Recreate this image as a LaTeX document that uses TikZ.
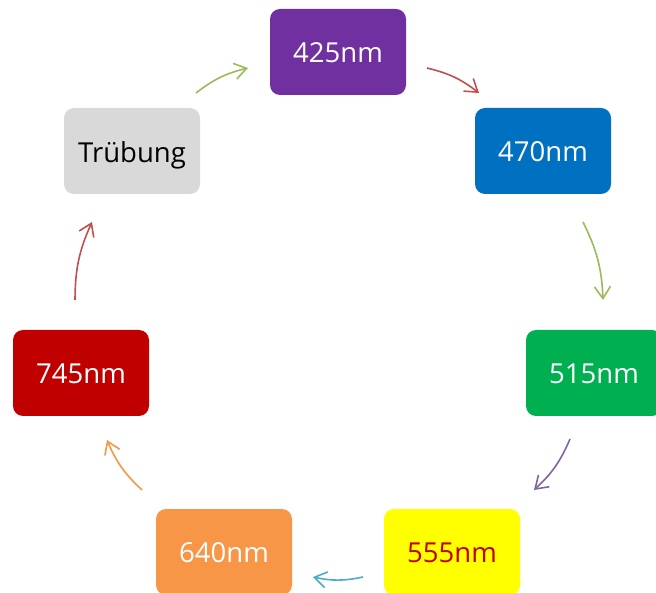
\documentclass[tikz,border=0pt]{standalone}
\usepackage{fontspec}
\setmainfont{Open Sans}
\usetikzlibrary{arrows.meta}
\definecolor{cPurple}{HTML}{7030A0}
\definecolor{cBlue}{HTML}{0070C0}
\definecolor{cGreen}{HTML}{00B050}
\definecolor{cYellow}{HTML}{FFFF00}
\definecolor{cOrange}{HTML}{F79646}
\definecolor{cRed}{HTML}{C00000}
\definecolor{cGray}{HTML}{D9D9D9}
\definecolor{aGreen}{HTML}{9BBB59}
\definecolor{aRed}{HTML}{C0504D}
\definecolor{aPurple}{HTML}{8064A2}
\definecolor{aCyan}{HTML}{4BACC6}
\definecolor{aOrange}{HTML}{F79646}
\tikzset{
  wbox/.style={rectangle, rounded corners=10pt, minimum width=136pt, minimum height=86pt,
    inner sep=0pt, font=\fontsize{27.5}{32}\selectfont, text=white, text depth=0pt},
  cyc/.style={line width=1.6pt, -{Straight Barb[length=12pt,width=16pt,line width=1.6pt]}, bend left=12}
}
\begin{document}
\begin{tikzpicture}[x=1pt,y=-1pt]
\useasboundingbox (0,0) rectangle (656,593);
\clip (0,0) rectangle (656,593);
\node[wbox, fill=cPurple] (n425) at (338,52) {\raisebox{-2pt}{425nm}};
\node[wbox, fill=cBlue] (n470) at (543,151) {\raisebox{-2pt}{470nm}};
\node[wbox, fill=cGreen] (n515) at (594,373) {\raisebox{-2pt}{515nm}};
\node[wbox, fill=cYellow, text=cRed] (n555) at (452,552) {\raisebox{-2pt}{555nm}};
\node[wbox, fill=cOrange] (n640) at (224,552) {\raisebox{-2pt}{640nm}};
\node[wbox, fill=cRed] (n745) at (81,373) {\raisebox{-2pt}{745nm}};
\node[wbox, fill=cGray, text=black] (trub) at (132,151) {\raisebox{-2pt}{Trübung}};
\coordinate (a1s) at (196,93);  \coordinate (a1e) at (248,68);
\coordinate (a2s) at (427,68);  \coordinate (a2e) at (479,93);
\coordinate (a3s) at (583,222); \coordinate (a3e) at (603,300);
\coordinate (a4s) at (570,439); \coordinate (a4e) at (534,490);
\coordinate (a5s) at (363,577); \coordinate (a5e) at (313,577);
\coordinate (a6s) at (142,490); \coordinate (a6e) at (107,440);
\coordinate (a7s) at (75,300);  \coordinate (a7e) at (92,222);
\draw[cyc, aGreen] (a1s) to (a1e);
\draw[cyc, aRed] (a2s) to (a2e);
\draw[cyc, aGreen] (a3s) to (a3e);
\draw[cyc, aPurple] (a4s) to (a4e);
\draw[cyc, aCyan] (a5s) to (a5e);
\draw[cyc, aOrange] (a6s) to (a6e);
\draw[cyc, aRed] (a7s) to (a7e);
\end{tikzpicture}
\end{document}
